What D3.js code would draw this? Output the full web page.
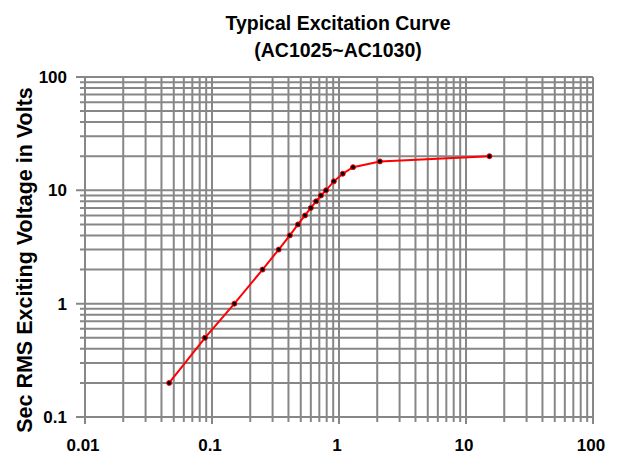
<!DOCTYPE html>
<html><head><meta charset="utf-8">
<script src="https://cdn.jsdelivr.net/npm/d3@7"></script>
<style>body{margin:0;background:#fff;} text{font-family:"Liberation Sans",Arial,sans-serif;font-weight:bold;}</style>
</head><body>
<svg id="c" width="617" height="455"></svg>
<script>
const currentA = [0.046,0.088,0.15,0.25,0.335,0.41,0.475,0.54,0.6,0.66,0.72,0.79,0.91,1.07,1.29,2.1,15.3];
const voltageV = [0.2,0.5,1,2,3,4,5,6,7,8,9,10,12,14,16,18,20];
const xTickLabels = ["0.01","0.1","1","10","100"];
const yTickLabels = ["0.1","1","10","100"];
const titleLines = ["Typical Excitation Curve","(AC1025~AC1030)"];
const yTitle = "Sec RMS Exciting Voltage in Volts";

const L=85,R=593,T=77,B=417;
const svg=d3.select("#c");
const x=d3.scaleLog().domain([0.01,100]).range([L,R]);
const y=d3.scaleLog().domain([0.1,100]).range([B,T]);

const xs=[],ys=[];
for(let e=-2;e<2;e++)for(let m=1;m<10;m++)xs.push(m*Math.pow(10,e));
xs.push(100);
for(let e=-1;e<2;e++)for(let m=1;m<10;m++)ys.push(m*Math.pow(10,e));
ys.push(100);
const isMajor=d=>Math.abs(Math.log10(d)-Math.round(Math.log10(d)))<1e-9;
const gc="#878787";
const g=svg.append("g");
g.selectAll(".vx").data(xs).enter().append("line")
 .attr("x1",d=>x(d)).attr("x2",d=>x(d)).attr("y1",T).attr("y2",d=>B+(isMajor(d)?7:5))
 .attr("stroke",gc).attr("stroke-width",2);
g.selectAll(".hy").data(ys).enter().append("line")
 .attr("y1",d=>y(d)).attr("y2",d=>y(d)).attr("x2",R).attr("x1",d=>L-(isMajor(d)?9:5))
 .attr("stroke",gc).attr("stroke-width",2);

xTickLabels.forEach(t=>svg.append("text").attr("x",x(+t)-2).attr("y",451).attr("text-anchor","middle").attr("font-size",17).text(t));
yTickLabels.forEach(t=>svg.append("text").attr("x",67).attr("y",y(+t)+6).attr("text-anchor","end").attr("font-size",17).text(t));

svg.append("text").attr("x",338).attr("y",30).attr("text-anchor","middle").attr("font-size",19.5).text(titleLines[0]);
svg.append("text").attr("x",338).attr("y",57).attr("text-anchor","middle").attr("font-size",19.5).text(titleLines[1]);
svg.append("text").attr("transform","translate(32,260) rotate(-90)").attr("text-anchor","middle").attr("font-size",21.5).text(yTitle);

const pts=currentA.map((c,i)=>[c,voltageV[i]]);
svg.append("path").datum(pts).attr("fill","none").attr("stroke","#ff0000").attr("stroke-width",2)
 .attr("d",d3.line().x(d=>x(d[0])).y(d=>y(d[1])));
svg.selectAll(".pt").data(pts).enter().append("circle")
 .attr("cx",d=>x(d[0])).attr("cy",d=>y(d[1])).attr("r",2.5).attr("fill","#000").attr("stroke","#ff0000").attr("stroke-width",1);
</script>
</body></html>
